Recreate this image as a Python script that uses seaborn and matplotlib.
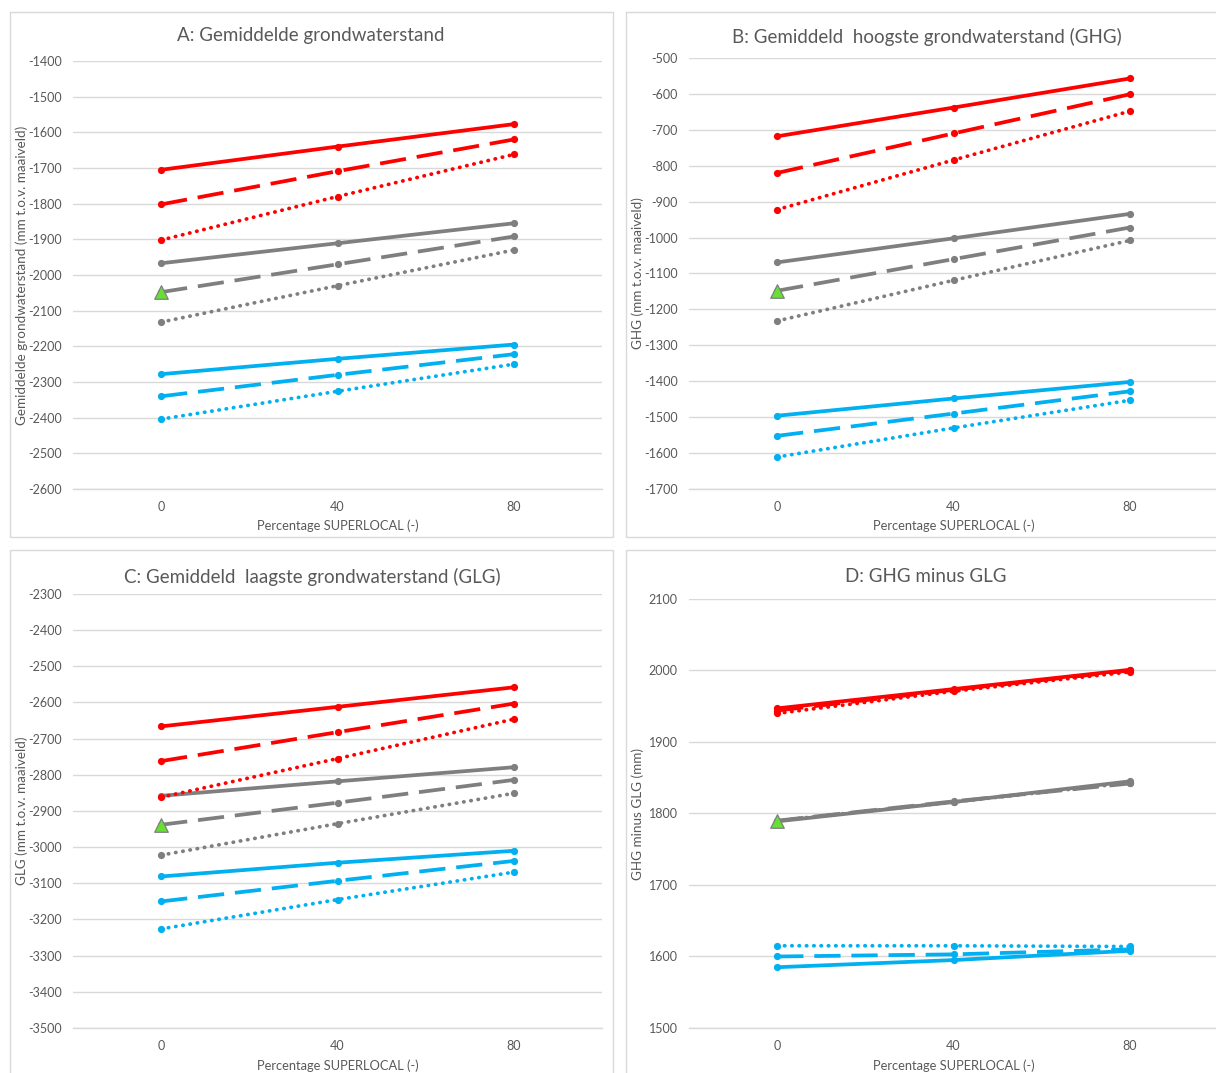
import numpy as np
import pandas as pd
import matplotlib
matplotlib.use("Agg")
import matplotlib.pyplot as plt
from matplotlib.patches import Rectangle
import seaborn as sns

# Percentage SUPERLOCAL on the x axis
pct = [0, 40, 80]
pct_ticks = [0, 40, 80, 100]
pct_labels = ["0", "40", "80", ""]

# Each colour group holds three series: solid, long-dashed, dotted
# A: gemiddelde grondwaterstand (mm t.o.v. maaiveld)
gem_rood = [[-1705, -1640, -1577], [-1802, -1709, -1620], [-1902, -1780, -1662]]
gem_grijs = [[-1967, -1911, -1855], [-2048, -1970, -1892], [-2132, -2030, -1930]]
gem_blauw = [[-2278, -2235, -2195], [-2340, -2280, -2222], [-2404, -2326, -2250]]

# B: GHG (mm t.o.v. maaiveld)
ghg_rood = [[-718, -638, -557], [-820, -710, -601], [-922, -784, -648]]
ghg_grijs = [[-1069, -1002, -934], [-1148, -1060, -972], [-1232, -1119, -1008]]
ghg_blauw = [[-1496, -1448, -1402], [-1552, -1490, -1428], [-1611, -1530, -1453]]

# C: GLG (mm t.o.v. maaiveld)
glg_rood = [[-2666, -2612, -2558], [-2762, -2682, -2603], [-2862, -2755, -2646]]
glg_grijs = [[-2858, -2818, -2779], [-2938, -2877, -2814], [-3022, -2935, -2851]]
glg_blauw = [[-3081, -3043, -3010], [-3150, -3093, -3038], [-3226, -3145, -3069]]

# D: GHG minus GLG (mm)
dif_rood = [[1947, 1974, 2001], [1944, 1973, 2000], [1940, 1971, 1998]]
dif_grijs = [[1789, 1816, 1845], [1790, 1817, 1842], [1790, 1816, 1843]]
dif_blauw = [[1585, 1595, 1608], [1600, 1603, 1610], [1615, 1615, 1614]]

klassen = ["rood", "grijs", "blauw"]
varianten = ["vast", "streep", "punt"]
kleuren = {"rood": "#FF0000", "grijs": "#7F7F7F", "blauw": "#00B0F0"}
lijnstijl = {"vast": "-", "streep": (0, (7, 2.9)), "punt": (0, (0.1, 1.85))}

titels = ["A: Gemiddelde grondwaterstand",
          "B: Gemiddeld  hoogste grondwaterstand (GHG)",
          "C: Gemiddeld  laagste grondwaterstand (GLG)",
          "D: GHG minus GLG"]
ylabels = ["Gemiddelde grondwaterstand (mm t.o.v. maaiveld)",
           "GHG (mm t.o.v. maaiveld)",
           "GLG (mm t.o.v. maaiveld)",
           "GHG minus GLG (mm)"]
ybereik = [(-2600, -1400), (-1700, -500), (-3500, -2300), (1500, 2100)]
xlabel = "Percentage SUPERLOCAL (-)"

panelen = [
    (gem_rood, gem_grijs, gem_blauw),
    (ghg_rood, ghg_grijs, ghg_blauw),
    (glg_rood, glg_grijs, glg_blauw),
    (dif_rood, dif_grijs, dif_blauw),
]

sns.set_theme(style="white")
plt.rcParams["font.family"] = ["Lato", "DejaVu Sans"]
plt.rcParams["axes.unicode_minus"] = False

W, H = 1216, 1073
fig = plt.figure(figsize=(W / 100, H / 100), dpi=100)
TXT = "#595959"
RAND = "#D9D9D9"

# pixel layout: plot area (l, t, r, b), chart frame, title centre, ylabel x, xlabel y
layout = [
    dict(plot=(73, 61, 602, 489), frame=(10, 12, 613, 537), title=(311, 36), ylab=22, xlab=526),
    dict(plot=(689, 58, 1218, 489), frame=(626, 12, 1232, 537), title=(927, 37), ylab=638, xlab=526),
    dict(plot=(73, 594, 602, 1028), frame=(10, 550, 613, 1090), title=(312, 577), ylab=22, xlab=1066),
    dict(plot=(689, 599, 1218, 1028), frame=(626, 550, 1232, 1090), title=(926, 577), ylab=638, xlab=1066),
]


def fx(px):
    return px / W


def fy(py):
    return 1 - py / H


for i, (groepen, lay) in enumerate(zip(panelen, layout)):
    fl, ft, fr, fb = lay["frame"]
    fig.patches.append(Rectangle((fx(fl), fy(fb)), fx(fr - fl), (fb - ft) / H,
                                 transform=fig.transFigure, fill=False,
                                 edgecolor=RAND, lw=1.0, zorder=0))
    l, t, r, b = lay["plot"]
    ax = fig.add_axes([fx(l), fy(b), fx(r - l), (b - t) / H])

    rows = []
    for klasse, groep in zip(klassen, groepen):
        for variant, reeks in zip(varianten, groep):
            for x, v in zip(pct, reeks):
                rows.append(dict(pct=x, waarde=v, klasse=klasse, variant=variant))
    df = pd.DataFrame(rows)

    for variant in varianten:
        sub = df[df["variant"] == variant]
        sns.lineplot(data=sub, x="pct", y="waarde", hue="klasse",
                     hue_order=klassen, palette=kleuren, legend=False, ax=ax,
                     linestyle=lijnstijl[variant], lw=2.7,
                     dash_capstyle="round" if variant == "punt" else "butt",
                     marker="o", markersize=5.2, markeredgewidth=0,
                     estimator=None, sort=True)

    # reference point: grey long-dashed series at 0 %
    ref = df[(df["klasse"] == "grijs") & (df["variant"] == "streep") & (df["pct"] == 0)]
    sns.scatterplot(data=ref, x="pct", y="waarde", marker="^", s=95,
                    color="#66E033", edgecolor="#7F7F7F", linewidth=0.9,
                    legend=False, ax=ax, zorder=5)

    lo, hi = ybereik[i]
    ax.set_xlim(-20, 100)
    ax.set_ylim(lo, hi)
    yt = np.arange(lo, hi + 1, 100)
    ax.set_yticks(yt, labels=[str(int(v)) for v in yt])
    ax.set_xticks(pct_ticks, labels=pct_labels)
    ax.grid(axis="y", color=RAND, lw=1.0)
    ax.set_axisbelow(True)
    for s in ["top", "left", "right"]:
        ax.spines[s].set_visible(False)
    ax.spines["bottom"].set_color(RAND)
    ax.spines["bottom"].set_linewidth(1.0)
    ax.tick_params(axis="y", length=0, pad=8, labelsize=9, labelcolor=TXT)
    ax.tick_params(axis="x", direction="inout", length=5, width=0.8, color="#BFBFBF",
                   pad=6, labelsize=9, labelcolor=TXT)
    ax.set_xlabel("")
    ax.set_ylabel("")
    ax.patch.set_alpha(0)

    tx, ty = lay["title"]
    fig.text(fx(tx), fy(ty), titels[i], ha="center", va="center",
             fontsize=13.5, color=TXT)
    fig.text(fx(lay["ylab"]), fy((t + b) / 2), ylabels[i], ha="center", va="center",
             rotation=90, fontsize=9.7, color=TXT)
    fig.text(fx((l + r) / 2), fy(lay["xlab"]), xlabel, ha="center", va="center",
             fontsize=9.3, color=TXT)

fig.savefig("out.png", dpi=100, facecolor="white")
